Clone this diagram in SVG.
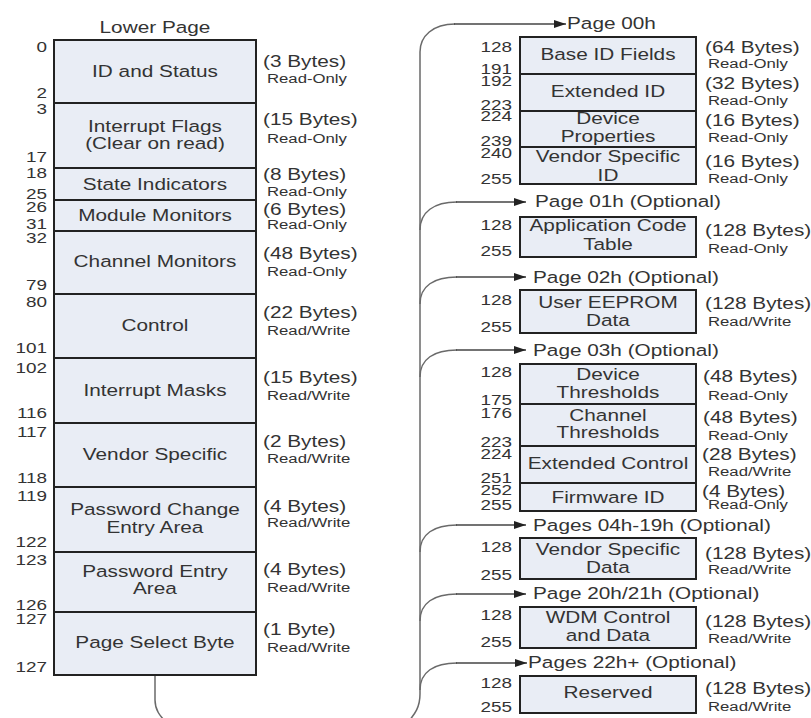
<svg xmlns="http://www.w3.org/2000/svg" width="811" height="718" viewBox="0 0 811 718">
<style>
text{font-family:"Liberation Sans",Arial,sans-serif;fill:#333;transform-box:fill-box}
.lbl{font-size:16.5px;text-anchor:middle;transform-origin:center;transform:scaleX(1.26)}
.num{font-size:15px;text-anchor:end;transform-origin:right;transform:scaleX(1.26)}
.by{font-size:16.5px;text-anchor:start;transform-origin:left;transform:scaleX(1.26)}
.rw{font-size:13.5px;text-anchor:start;transform-origin:left;transform:scaleX(1.24)}
.pg{font-size:16.5px;text-anchor:start;transform-origin:left;transform:scaleX(1.26)}
.box{fill:#e9edf5;stroke:#222;stroke-width:2}
.con{fill:none;stroke:#6a6a6a;stroke-width:1.5}
.arr{fill:none;stroke:#444;stroke-width:1.5;marker-end:url(#ah)}
</style>
<defs>
<marker id="ah" markerUnits="userSpaceOnUse" markerWidth="14" markerHeight="10" refX="12" refY="4" orient="auto">
<path d="M0,0 L12,4 L0,8 Z" fill="#222"/>
</marker>
</defs>
<rect width="811" height="718" fill="#fff"/>

<g id="connectors">
<path class="con" d="M455,24 C433,24 420,36 420,52 L420,694 C420,707 415,714 408,722"/>
<path class="arr" d="M454,24 L566,24"/>
<path class="con" d="M420,230 C420,212 434,202 457,202"/>
<path class="arr" d="M456,202 L526,202"/>
<path class="con" d="M420,304 C420,286 434,277 457,277"/>
<path class="arr" d="M456,277 L526,277"/>
<path class="con" d="M420,377 C420,359 434,350 457,350"/>
<path class="arr" d="M456,350 L526,350"/>
<path class="con" d="M420,552 C420,534 434,525 457,525"/>
<path class="arr" d="M456,525 L526,525"/>
<path class="con" d="M420,621 C420,603 434,594 457,594"/>
<path class="arr" d="M456,594 L526,594"/>
<path class="con" d="M420,690 C420,672 434,663 457,663"/>
<path class="arr" d="M456,663 L527,663"/>
<path class="con" d="M155,676 L155,700 C155,710 160,716 166,722"/>
</g>

<text class="lbl" x="155" y="33">Lower Page</text>

<g id="id-status"><rect class="box" x="54" y="40" width="202" height="63"/>
<text class="lbl" x="155" y="77">ID and Status</text>
<text class="num" x="47" y="52">0</text><text class="num" x="47" y="98">2</text>
<text class="by" x="263" y="67">(3 Bytes)</text><text class="rw" x="267" y="83">Read-Only</text></g>

<g id="interrupt-flags"><rect class="box" x="54" y="103" width="202" height="65"/>
<text class="lbl" x="155" y="132">Interrupt Flags</text><text class="lbl" x="155" y="149">(Clear on read)</text>
<text class="num" x="47" y="114">3</text><text class="num" x="47" y="162">17</text>
<text class="by" x="263" y="125">(15 Bytes)</text><text class="rw" x="267" y="143">Read-Only</text></g>

<g id="state-indicators"><rect class="box" x="54" y="168" width="202" height="32"/>
<text class="lbl" x="155" y="190">State Indicators</text>
<text class="num" x="47" y="178">18</text><text class="num" x="47" y="199">25</text>
<text class="by" x="263" y="180">(8 Bytes)</text><text class="rw" x="267" y="196">Read-Only</text></g>

<g id="module-monitors"><rect class="box" x="54" y="200" width="202" height="31"/>
<text class="lbl" x="155" y="221">Module Monitors</text>
<text class="num" x="47" y="212">26</text><text class="num" x="47" y="229">31</text>
<text class="by" x="263" y="215">(6 Bytes)</text><text class="rw" x="267" y="229">Read-Only</text></g>

<g id="channel-monitors"><rect class="box" x="54" y="231" width="202" height="63"/>
<text class="lbl" x="155" y="267">Channel Monitors</text>
<text class="num" x="47" y="243">32</text><text class="num" x="47" y="290">79</text>
<text class="by" x="263" y="259">(48 Bytes)</text><text class="rw" x="267" y="276">Read-Only</text></g>

<g id="control"><rect class="box" x="54" y="294" width="202" height="64"/>
<text class="lbl" x="155" y="331">Control</text>
<text class="num" x="47" y="307">80</text><text class="num" x="47" y="353">101</text>
<text class="by" x="263" y="318">(22 Bytes)</text><text class="rw" x="267" y="335">Read/Write</text></g>

<g id="interrupt-masks"><rect class="box" x="54" y="358" width="202" height="65"/>
<text class="lbl" x="155" y="396">Interrupt Masks</text>
<text class="num" x="47" y="373">102</text><text class="num" x="47" y="418">116</text>
<text class="by" x="263" y="383">(15 Bytes)</text><text class="rw" x="267" y="400">Read/Write</text></g>

<g id="vendor-specific"><rect class="box" x="54" y="423" width="202" height="64"/>
<text class="lbl" x="155" y="460">Vendor Specific</text>
<text class="num" x="47" y="437">117</text><text class="num" x="47" y="483">118</text>
<text class="by" x="263" y="447">(2 Bytes)</text><text class="rw" x="267" y="463">Read/Write</text></g>

<g id="password-change"><rect class="box" x="54" y="487" width="202" height="65"/>
<text class="lbl" x="155" y="515">Password Change</text><text class="lbl" x="155" y="533">Entry Area</text>
<text class="num" x="47" y="501">119</text><text class="num" x="47" y="547">122</text>
<text class="by" x="263" y="512">(4 Bytes)</text><text class="rw" x="267" y="527">Read/Write</text></g>

<g id="password-entry"><rect class="box" x="54" y="552" width="202" height="60"/>
<text class="lbl" x="155" y="577">Password Entry</text><text class="lbl" x="155" y="594">Area</text>
<text class="num" x="47" y="565">123</text><text class="num" x="47" y="610">126</text>
<text class="by" x="263" y="575">(4 Bytes)</text><text class="rw" x="267" y="592">Read/Write</text></g>

<g id="page-select"><rect class="box" x="54" y="612" width="202" height="63"/>
<text class="lbl" x="155" y="648">Page Select Byte</text>
<text class="num" x="47" y="624">127</text><text class="num" x="47" y="672">127</text>
<text class="by" x="263" y="635">(1 Byte)</text><text class="rw" x="267" y="652">Read/Write</text></g>

<g id="page-00h">
<text class="pg" x="567" y="29">Page 00h</text>
<rect class="box" x="520" y="37" width="176" height="37"/>
<rect class="box" x="520" y="74" width="176" height="37"/>
<rect class="box" x="520" y="111" width="176" height="36"/>
<rect class="box" x="520" y="147" width="176" height="37"/>
<text class="lbl" x="608" y="60">Base ID Fields</text>
<text class="lbl" x="608" y="97">Extended ID</text>
<text class="lbl" x="608" y="124">Device</text><text class="lbl" x="608" y="142">Properties</text>
<text class="lbl" x="608" y="162">Vendor Specific</text><text class="lbl" x="608" y="181">ID</text>
<text class="num" x="512" y="52">128</text><text class="num" x="512" y="74">191</text>
<text class="num" x="512" y="86">192</text><text class="num" x="512" y="110">223</text>
<text class="num" x="512" y="121">224</text><text class="num" x="512" y="146">239</text>
<text class="num" x="512" y="158">240</text><text class="num" x="512" y="184">255</text>
<text class="by" x="705" y="53">(64 Bytes)</text><text class="rw" x="708" y="68">Read-Only</text>
<text class="by" x="705" y="89">(32 Bytes)</text><text class="rw" x="708" y="105">Read-Only</text>
<text class="by" x="705" y="126">(16 Bytes)</text><text class="rw" x="708" y="142">Read-Only</text>
<text class="by" x="705" y="167">(16 Bytes)</text><text class="rw" x="708" y="183">Read-Only</text>
</g>

<g id="page-01h">
<text class="pg" x="535" y="207">Page 01h (Optional)</text>
<rect class="box" x="520" y="217" width="176" height="40"/>
<text class="lbl" x="608" y="231">Application Code</text><text class="lbl" x="608" y="250">Table</text>
<text class="num" x="512" y="230">128</text><text class="num" x="512" y="256">255</text>
<text class="by" x="705" y="236">(128 Bytes)</text><text class="rw" x="708" y="253">Read-Only</text>
</g>

<g id="page-02h">
<text class="pg" x="533" y="283">Page 02h (Optional)</text>
<rect class="box" x="520" y="290" width="176" height="43"/>
<text class="lbl" x="608" y="308">User EEPROM</text><text class="lbl" x="608" y="326">Data</text>
<text class="num" x="512" y="305">128</text><text class="num" x="512" y="332">255</text>
<text class="by" x="705" y="309">(128 Bytes)</text><text class="rw" x="708" y="326">Read/Write</text>
</g>

<g id="page-03h">
<text class="pg" x="533" y="356">Page 03h (Optional)</text>
<rect class="box" x="520" y="364" width="176" height="40"/>
<rect class="box" x="520" y="404" width="176" height="42"/>
<rect class="box" x="520" y="446" width="176" height="37"/>
<rect class="box" x="520" y="483" width="176" height="28"/>
<text class="lbl" x="608" y="380">Device</text><text class="lbl" x="608" y="398">Thresholds</text>
<text class="lbl" x="608" y="421">Channel</text><text class="lbl" x="608" y="438">Thresholds</text>
<text class="lbl" x="608" y="469">Extended Control</text>
<text class="lbl" x="608" y="503">Firmware ID</text>
<text class="num" x="512" y="377">128</text><text class="num" x="512" y="405">175</text>
<text class="num" x="512" y="418">176</text><text class="num" x="512" y="447">223</text>
<text class="num" x="512" y="459">224</text><text class="num" x="512" y="483">251</text>
<text class="num" x="512" y="495">252</text><text class="num" x="512" y="510">255</text>
<text class="by" x="703" y="382">(48 Bytes)</text><text class="rw" x="708" y="400">Read-Only</text>
<text class="by" x="703" y="423">(48 Bytes)</text><text class="rw" x="708" y="440">Read-Only</text>
<text class="by" x="702" y="460">(28 Bytes)</text><text class="rw" x="708" y="476">Read/Write</text>
<text class="by" x="702" y="497">(4 Bytes)</text><text class="rw" x="708" y="509">Read-Only</text>
</g>

<g id="pages-04h-19h">
<text class="pg" x="533" y="531">Pages 04h-19h (Optional)</text>
<rect class="box" x="520" y="538" width="176" height="41"/>
<text class="lbl" x="608" y="555">Vendor Specific</text><text class="lbl" x="608" y="573">Data</text>
<text class="num" x="512" y="552">128</text><text class="num" x="512" y="580">255</text>
<text class="by" x="705" y="559">(128 Bytes)</text><text class="rw" x="708" y="574">Read/Write</text>
</g>

<g id="page-20h-21h">
<text class="pg" x="533" y="599">Page 20h/21h (Optional)</text>
<rect class="box" x="520" y="607" width="176" height="41"/>
<text class="lbl" x="608" y="623">WDM Control</text><text class="lbl" x="608" y="641">and Data</text>
<text class="num" x="512" y="620">128</text><text class="num" x="512" y="647">255</text>
<text class="by" x="705" y="627">(128 Bytes)</text><text class="rw" x="708" y="643">Read/Write</text>
</g>

<g id="pages-22h">
<text class="pg" x="528" y="668">Pages 22h+ (Optional)</text>
<rect class="box" x="520" y="676" width="176" height="37"/>
<text class="lbl" x="608" y="698">Reserved</text>
<text class="num" x="512" y="688">128</text><text class="num" x="512" y="712">255</text>
<text class="by" x="705" y="694">(128 Bytes)</text><text class="rw" x="708" y="711">Read/Write</text>
</g>
</svg>
